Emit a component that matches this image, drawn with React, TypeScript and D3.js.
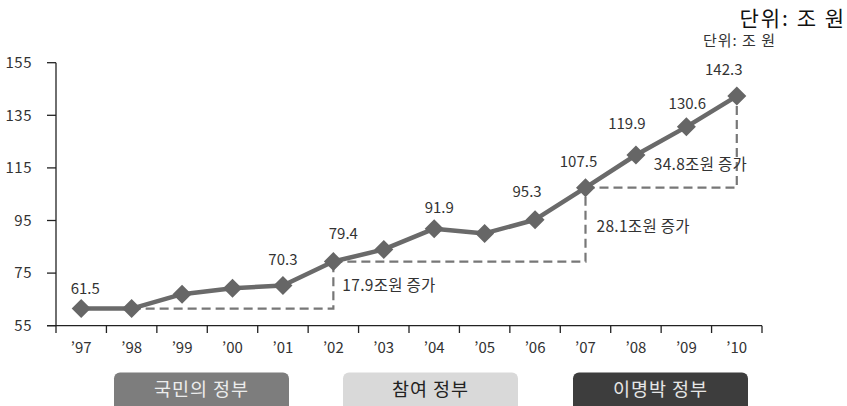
import React from "react";
import * as d3 from "d3";

const years = ["’97", "’98", "’99", "’00", "’01", "’02", "’03", "’04", "’05", "’06", "’07", "’08", "’09", "’10"];
const values = [61.5, 61.5, 67.0, 69.2, 70.3, 79.4, 84.0, 91.9, 90.1, 95.3, 107.5, 119.9, 130.6, 142.3];
const labelText = ["61.5", "", "", "", "70.3", "79.4", "", "91.9", "", "95.3", "107.5", "119.9", "130.6", "142.3"];
const yTicks = [55, 75, 95, 115, 135, 155];
const steps = [
  { from: 1, to: 5, text: "17.9조원 증가" },
  { from: 5, to: 10, text: "28.1조원 증가" },
  { from: 10, to: 13, text: "34.8조원 증가" },
];
const govs = [
  { name: "국민의 정부", fill: "#7d7d7d", color: "#ececec" },
  { name: "참여 정부", fill: "#d9d9d9", color: "#222222" },
  { name: "이명박 정부", fill: "#3d3d3d", color: "#e6e6e6" },
];

// layout-only nudges for value labels [dx, dy]
const labelNudge: [number, number][] = [
  [4, -20], [0, 0], [0, 0], [0, 0], [0, -26], [10, -28], [0, 0], [5, -21], [0, 0], [-8, -28], [-7, -26], [-9, -31], [1, -23], [-13, -26],
];
// layout for annotation text [dx from vertical line, y]
const stepLabelPos: [number, number][] = [[9, 286], [11, 227], [-83, 165]];

const FONT = "'Noto Sans CJK KR', 'Noto Sans', sans-serif";

export default function App() {
  const W = 847, H = 406;
  const x = d3.scaleBand<string>().domain(years).range([56, 762]).padding(0);
  const y = d3.scaleLinear().domain([55, 155]).range([325.7, 62.7]);
  const cx = (i: number) => (x(years[i]) as number) + x.bandwidth() / 2;
  const line = d3.line<number>().x((_, i) => cx(i)).y((d) => y(d));
  const ds = 9.5;
  const legendX = [114, 343, 573];

  return (
    <svg width={W} height={H} style={{ position: "absolute", left: 0, top: 0, fontFamily: FONT }}>
      <rect width={W} height={H} fill="#fff" />
      <text x={846} y={26} textAnchor="end" fontSize={21} fill="#111" letterSpacing={2}>단위: 조 원</text>
      <text x={776} y={46} textAnchor="end" fontSize={15} fill="#333" letterSpacing={1}>단위: 조 원</text>

      {/* y axis */}
      <line x1={56} x2={56} y1={y(155)} y2={333} stroke="#222" strokeWidth={1.3} />
      {yTicks.map((t) => (
        <g key={t}>
          <line x1={47} x2={56} y1={y(t)} y2={y(t)} stroke="#222" strokeWidth={1.3} />
          <text x={32} y={y(t)} dy="0.35em" textAnchor="end" fontSize={15} fill="#333" letterSpacing={0.5}>{t}</text>
        </g>
      ))}
      {/* x axis */}
      <line x1={47} x2={762} y1={y(55)} y2={y(55)} stroke="#222" strokeWidth={1.3} />
      {years.map((yr, i) => (
        <g key={yr}>
          <line x1={(x(yr) as number) + x.bandwidth()} x2={(x(yr) as number) + x.bandwidth()} y1={y(55)} y2={333} stroke="#222" strokeWidth={1.3} />
          <text x={cx(i)} y={353} textAnchor="middle" fontSize={15} fill="#333">{yr}</text>
        </g>
      ))}

      {/* dashed steps */}
      {steps.map((s, k) => (
        <g key={k}>
          <path
            d={`M${cx(s.from)},${y(values[s.from])}H${cx(s.to)}V${y(values[s.to])}`}
            fill="none" stroke="#777" strokeWidth={2.2} strokeDasharray="9,5"
          />
          <text x={cx(s.to) + stepLabelPos[k][0]} y={stepLabelPos[k][1]} dy="0.35em" fontSize={15.5} fill="#333" letterSpacing={0.3}>{s.text}</text>
        </g>
      ))}

      {/* line */}
      <path d={line(values) as string} fill="none" stroke="#6a6a6a" strokeWidth={4.5} strokeLinejoin="round" />
      {values.map((v, i) => (
        <path key={i} d={`M${cx(i)},${y(v) - ds}L${cx(i) + ds},${y(v)}L${cx(i)},${y(v) + ds}L${cx(i) - ds},${y(v)}Z`} fill="#666" />
      ))}
      {values.map((v, i) =>
        labelText[i] ? (
          <text key={i} x={cx(i) + labelNudge[i][0]} y={y(v) + labelNudge[i][1]} dy="0.35em" textAnchor="middle" fontSize={15} fill="#333">{labelText[i]}</text>
        ) : null
      )}

      {/* legend */}
      {govs.map((g, i) => (
        <g key={g.name}>
          <rect x={legendX[i]} y={372.5} width={175} height={45} rx={6} fill={g.fill} />
          <text x={legendX[i] + 87.5} y={390} dy="0.35em" textAnchor="middle" fontSize={18.5} fill={g.color} letterSpacing={1}>{g.name}</text>
        </g>
      ))}
    </svg>
  );
}
